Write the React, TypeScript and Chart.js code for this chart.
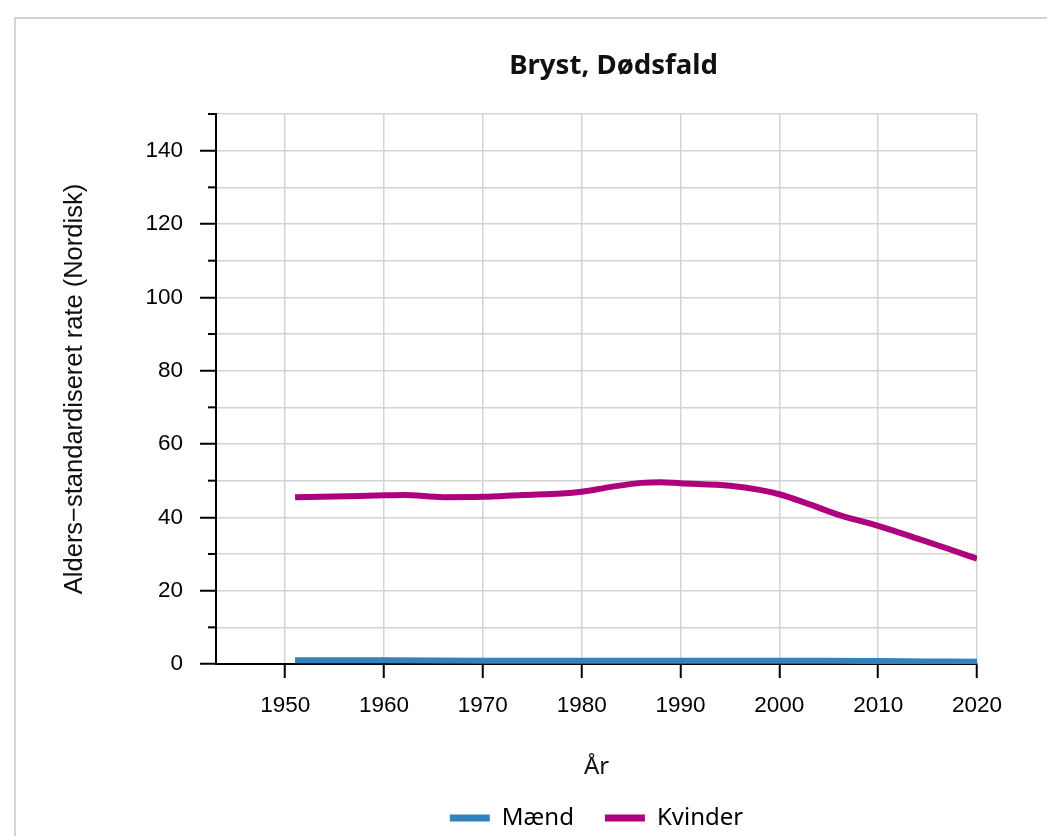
import React, { useEffect, useRef } from 'react';
import { Chart, registerables } from 'chart.js';

Chart.register(...registerables);

const chartTitle = 'Bryst, Dødsfald';
const xAxisTitle = 'År';
const yAxisTitle = 'Alders−standardiseret rate (Nordisk)';

const seriesNames = ['Mænd', 'Kvinder'];
const seriesColors = ['#3182bd', '#ae017e'];

const maendYears = [1951, 1960, 1970, 1980, 1990, 2000, 2005, 2010, 2015, 2020];
const maendValues = [1.0, 1.0, 0.9, 0.9, 0.9, 0.9, 0.9, 0.8, 0.7, 0.6];

const kvinderYears = [1951, 1955, 1960, 1962, 1966, 1970, 1974, 1978, 1980, 1983, 1986, 1988, 1990, 1995, 1998, 2000, 2003, 2006, 2010, 2014, 2017, 2020];
const kvinderValues = [45.5, 45.7, 46.0, 46.1, 45.5, 45.6, 46.1, 46.5, 47.0, 48.3, 49.4, 49.6, 49.3, 48.6, 47.5, 46.3, 43.6, 40.7, 37.7, 34.2, 31.5, 28.7];

const xTickValues = [1950, 1960, 1970, 1980, 1990, 2000, 2010, 2020];
const yTickValues = [0, 10, 20, 30, 40, 50, 60, 70, 80, 90, 100, 110, 120, 130, 140, 150];
const yLabelValues = [0, 20, 40, 60, 80, 100, 120, 140];

const xMin = 1943;
const xMax = 2020;
const yMin = 0;
const yMax = 150;

const ARIAL = "'Liberation Sans', Arial, sans-serif";
const NOTO = "'Noto Sans', 'Open Sans', sans-serif";

const minorTickPlugin = {
  id: 'minorTicks',
  beforeDatasetsDraw(chart: any) {
    const y = chart.scales.y;
    const area = chart.chartArea;
    const ctx = chart.ctx;
    ctx.save();
    ctx.strokeStyle = '#000';
    ctx.lineWidth = 2;
    y.ticks.forEach((t: any) => {
      if (!yLabelValues.includes(t.value)) {
        const py = y.getPixelForValue(t.value);
        ctx.beginPath();
        ctx.moveTo(area.left - 8, py);
        ctx.lineTo(area.left, py);
        ctx.stroke();
      }
    });
    ctx.restore();
  },
};

export default function App() {
  const canvasRef = useRef<HTMLCanvasElement | null>(null);

  useEffect(() => {
    if (!canvasRef.current) return;
    const chart = new Chart(canvasRef.current, {
      type: 'line',
      data: {
        datasets: [
          {
            label: seriesNames[0],
            data: maendYears.map((x, i) => ({ x, y: maendValues[i] })),
            borderColor: seriesColors[0],
            backgroundColor: seriesColors[0],
            borderWidth: 6,
            pointRadius: 0,
            cubicInterpolationMode: 'monotone',
            fill: false,
          },
          {
            label: seriesNames[1],
            data: kvinderYears.map((x, i) => ({ x, y: kvinderValues[i] })),
            borderColor: seriesColors[1],
            backgroundColor: seriesColors[1],
            borderWidth: 6,
            pointRadius: 0,
            cubicInterpolationMode: 'monotone',
            fill: false,
          },
        ],
      },
      options: {
        responsive: false,
        animation: false,
        devicePixelRatio: 1,
        layout: { padding: { left: 0, right: 0, top: 0, bottom: 0 } },
        plugins: {
          title: {
            display: true,
            text: chartTitle,
            font: { family: NOTO, size: 27.6, weight: 'bold' },
            color: '#111',
            padding: { top: 49.6, bottom: 31.3 },
          },
          legend: {
            position: 'bottom',
            fullSize: false,
            labels: {
              boxWidth: 40,
              boxHeight: 7,
              padding: 31,
              font: { family: NOTO, size: 24 },
              color: '#111',
              generateLabels: (c: any) =>
                c.data.datasets.map((ds: any, i: number) => ({
                  text: ds.label,
                  fillStyle: ds.borderColor,
                  strokeStyle: ds.borderColor,
                  lineWidth: 0,
                  hidden: false,
                  datasetIndex: i,
                })),
            },
          },
          tooltip: { enabled: false },
        },
        scales: {
          x: {
            type: 'linear',
            min: xMin,
            max: xMax,
            afterBuildTicks: (s: any) => {
              s.ticks = xTickValues.map((v) => ({ value: v }));
            },
            afterFit: (s: any) => {
              s.height = 111;
            },
            ticks: {
              callback: (v: any) => String(v),
              font: { family: ARIAL, size: 22.5 },
              color: '#000',
              padding: 14,
              maxRotation: 0,
              autoSkip: false,
            },
            grid: {
              color: '#d3d3d3',
              lineWidth: 1.5,
              tickColor: '#000',
              tickWidth: 2,
              tickLength: 14,
            },
            border: { color: '#000', width: 2 },
            title: {
              display: true,
              text: xAxisTitle,
              font: { family: NOTO, size: 24 },
              color: '#111',
              padding: { top: 0, bottom: -6.6 },
            },
          },
          y: {
            type: 'linear',
            min: yMin,
            max: yMax,
            afterBuildTicks: (s: any) => {
              s.ticks = yTickValues.map((v) => ({ value: v }));
            },
            afterFit: (s: any) => {
              s.width = 216;
            },
            ticks: {
              callback: (v: any) => (yLabelValues.includes(v) ? String(v) : ''),
              font: { family: ARIAL, size: 22.5 },
              color: '#000',
              padding: 17,
              autoSkip: false,
            },
            grid: {
              color: (ctx: any) => (ctx.tick && ctx.tick.value === 0 ? 'rgba(0,0,0,0)' : '#d3d3d3'),
              lineWidth: 1.5,
              tickColor: (ctx: any) => (ctx.tick && yLabelValues.includes(ctx.tick.value) ? '#000' : 'rgba(0,0,0,0)'),
              tickWidth: 2,
              tickLength: 16,
            },
            border: { color: '#000', width: 2 },
            title: {
              display: true,
              text: yAxisTitle,
              font: { family: ARIAL, size: 25.5 },
              color: '#111',
              padding: { top: 60, bottom: 0 },
            },
          },
          yRightSpace: {
            type: 'linear',
            position: 'right',
            min: yMin,
            max: yMax,
            afterFit: (s: any) => {
              s.width = 250;
            },
            ticks: { display: false },
            grid: { display: false, drawTicks: false },
            border: { display: false },
          },
        },
      },
      plugins: [minorTickPlugin],
    } as any);
    return () => chart.destroy();
  }, []);

  return (
    <div
      style={{
        position: 'fixed',
        left: 0,
        top: 0,
        width: 1047,
        height: 836,
        overflow: 'hidden',
        background: '#fff',
      }}
    >
      <div
        style={{
          position: 'absolute',
          left: 14,
          top: 17,
          width: 1200,
          height: 1000,
          border: '2px solid #d4d4d4',
        }}
      />
      <canvas
        ref={canvasRef}
        width={1227}
        height={840}
        style={{ position: 'absolute', left: 0, top: 0, display: 'block' }}
      />
    </div>
  );
}
